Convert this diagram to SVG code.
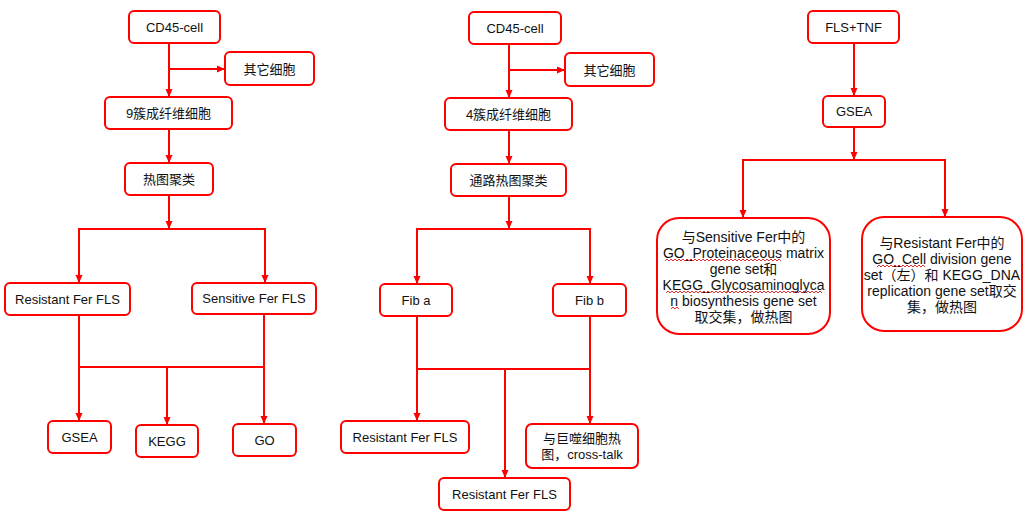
<svg xmlns="http://www.w3.org/2000/svg" width="1032" height="522" viewBox="0 0 1032 522">
<defs>
<marker id="arr" markerUnits="userSpaceOnUse" markerWidth="8" markerHeight="8" viewBox="0 0 8 8" refX="8" refY="4" orient="auto">
<path d="M0,0.5 L8,4 L0,7.5 Z" fill="#FF0000"/>
</marker>
<style>
rect{fill:#fff;stroke:#FF0000;stroke-width:2}
text{font-family:"Liberation Sans","Noto Sans CJK SC",sans-serif;font-size:13px;fill:#111;text-anchor:middle;dominant-baseline:central}
.b{font-size:14px}
.c line,.c polyline{stroke:#FF0000;stroke-width:2;fill:none}
.a{marker-end:url(#arr)}
.w{stroke:#E03030;stroke-width:1;fill:none}
</style>
</defs>
<rect x="0" y="0" width="1032" height="522" style="fill:#fff;stroke:none"/>
<g class="c" id="connectors">
<line class="a" x1="169" y1="43" x2="169" y2="97"/>
<line class="a" x1="169" y1="69" x2="225" y2="69"/>
<line class="a" x1="169" y1="129" x2="169" y2="163"/>
<line class="a" x1="169" y1="195" x2="169" y2="229"/>
<line x1="78" y1="229" x2="266" y2="229"/>
<line class="a" x1="79" y1="229" x2="79" y2="283"/>
<line class="a" x1="265" y1="229" x2="265" y2="283"/>
<line class="a" x1="79" y1="315" x2="79" y2="421"/>
<line class="a" x1="264" y1="314" x2="264" y2="424"/>
<line x1="79" y1="367" x2="264" y2="367"/>
<line class="a" x1="167" y1="367" x2="167" y2="425"/>
<line class="a" x1="509" y1="44" x2="509" y2="98"/>
<line class="a" x1="509" y1="70" x2="565" y2="70"/>
<line class="a" x1="509" y1="130" x2="509" y2="164"/>
<line class="a" x1="509" y1="196" x2="509" y2="229"/>
<line x1="416" y1="229" x2="591" y2="229"/>
<line class="a" x1="417" y1="229" x2="417" y2="284"/>
<line class="a" x1="590" y1="229" x2="590" y2="284"/>
<line class="a" x1="417" y1="316" x2="417" y2="421"/>
<line class="a" x1="590" y1="316" x2="590" y2="424"/>
<line x1="417" y1="369" x2="590" y2="369"/>
<line class="a" x1="505" y1="369" x2="505" y2="478"/>
<line class="a" x1="854" y1="43" x2="854" y2="96"/>
<line class="a" x1="854" y1="127" x2="854" y2="160"/>
<line x1="742" y1="160" x2="946" y2="160"/>
<line class="a" x1="743" y1="160" x2="743" y2="218"/>
<line class="a" x1="945" y1="160" x2="945" y2="217"/>
</g>
<g id="n1"><rect x="129" y="11" width="91" height="32" rx="5"/><text x="174.5" y="27">CD45-cell</text></g>
<g id="n2"><rect x="225" y="52" width="89" height="33" rx="5"/><text x="269.5" y="69">其它细胞</text></g>
<g id="n3"><rect x="105" y="97" width="127" height="32" rx="5"/><text x="168.5" y="113">9簇成纤维细胞</text></g>
<g id="n4"><rect x="125" y="163" width="88" height="32" rx="5"/><text x="169" y="179">热图聚类</text></g>
<g id="n5"><rect x="5" y="283" width="125" height="32" rx="5"/><text x="67.5" y="299.5">Resistant Fer FLS</text></g>
<g id="n6"><rect x="192" y="283" width="124" height="31" rx="5"/><text x="254" y="298.5">Sensitive Fer FLS</text></g>
<g id="n7"><rect x="48" y="421" width="63" height="32" rx="5"/><text x="79.5" y="437">GSEA</text></g>
<g id="n8"><rect x="136" y="425" width="62" height="32" rx="5"/><text x="167" y="441">KEGG</text></g>
<g id="n9"><rect x="233" y="424" width="63" height="32" rx="5"/><text x="264.5" y="440">GO</text></g>
<g id="m1"><rect x="469" y="12" width="92" height="32" rx="5"/><text x="515" y="28">CD45-cell</text></g>
<g id="m2"><rect x="565" y="53" width="89" height="33" rx="5"/><text x="609.5" y="70">其它细胞</text></g>
<g id="m3"><rect x="445" y="98" width="127" height="32" rx="5"/><text x="508.5" y="114">4簇成纤维细胞</text></g>
<g id="m4"><rect x="451" y="164" width="115" height="32" rx="5"/><text x="508.5" y="180">通路热图聚类</text></g>
<g id="m5"><rect x="380" y="284" width="72" height="32" rx="5"/><text x="416" y="300">Fib a</text></g>
<g id="m6"><rect x="553" y="284" width="73" height="32" rx="5"/><text x="589.5" y="300">Fib b</text></g>
<g id="m7"><rect x="341" y="421" width="128" height="32" rx="5"/><text x="405" y="437">Resistant Fer FLS</text></g>
<g id="m8"><rect x="526" y="424" width="112" height="44" rx="6"/><text x="582" y="438">与巨噬细胞热</text><text x="582" y="454">图，cross-talk</text></g>
<g id="m9"><rect x="439" y="478" width="131" height="32" rx="5"/><text x="504.5" y="494">Resistant Fer FLS</text></g>
<g id="r1"><rect x="808" y="11" width="91" height="32" rx="5"/><text x="853.5" y="27">FLS+TNF</text></g>
<g id="r2"><rect x="823" y="96" width="62" height="31" rx="5"/><text x="854" y="111.5">GSEA</text></g>
<g id="r3"><rect x="657" y="218" width="173" height="116" rx="22"/>
<text class="b" x="743.5" y="237">与Sensitive Fer中的</text>
<text class="b" x="743.5" y="253">GO_Proteinaceous matrix</text>
<text class="b" x="743.5" y="269">gene set和</text>
<text class="b" x="743.5" y="285">KEGG_Glycosaminoglyca</text>
<text class="b" x="743.5" y="301">n biosynthesis gene set</text>
<text class="b" x="743.5" y="317">取交集，做热图</text>
<path class="w" d="M665,261 l2,-2 l2,2 l2,-2 l2,2 l2,-2 l2,2 l2,-2 l2,2 l2,-2 l2,2 l2,-2 l2,2 l2,-2 l2,2 l2,-2 l2,2 l2,-2 l2,2 l2,-2 l2,2 l2,-2 l2,2 l2,-2 l2,2 l2,-2 l2,2 l2,-2 l2,2 l2,-2 l2,2 l2,-2 l2,2 l2,-2 l2,2 l2,-2 l2,2 l2,-2 l2,2 l2,-2 l2,2 l2,-2 l2,2 l2,-2 l2,2 l2,-2 l2,2 l2,-2 l2,2 l2,-2 l2,2 l2,-2 l2,2 l2,-2 l2,2 l2,-2 l2,2 l2,-2 l2,2"/>
<path class="w" d="M666,293 l2,-2 l2,2 l2,-2 l2,2 l2,-2 l2,2 l2,-2 l2,2 l2,-2 l2,2 l2,-2 l2,2 l2,-2 l2,2 l2,-2 l2,2 l2,-2 l2,2 l2,-2 l2,2 l2,-2 l2,2 l2,-2 l2,2 l2,-2 l2,2 l2,-2 l2,2 l2,-2 l2,2 l2,-2 l2,2 l2,-2 l2,2 l2,-2 l2,2 l2,-2 l2,2 l2,-2 l2,2 l2,-2 l2,2 l2,-2 l2,2 l2,-2 l2,2 l2,-2 l2,2 l2,-2 l2,2 l2,-2 l2,2 l2,-2 l2,2 l2,-2 l2,2 l2,-2 l2,2 l2,-2 l2,2 l2,-2 l2,2 l2,-2 l2,2 l2,-2 l2,2 l2,-2 l2,2 l2,-2 l2,2 l2,-2 l2,2 l2,-2 l2,2 l2,-2 l2,2 l2,-2 l2,2"/>
<path class="w" d="M671,309 l2,-2 l2,2 l2,-2 l2,2"/>
</g>
<g id="r4"><rect x="862" y="217" width="160" height="114" rx="22"/>
<text class="b" x="942" y="243">与Resistant Fer中的</text>
<text class="b" x="942" y="259">GO_Cell division gene</text>
<text class="b" x="942" y="275">set（左）和 KEGG_DNA</text>
<text class="b" x="942" y="291">replication gene set取交</text>
<text class="b" x="942" y="307">集，做热图</text>
<path class="w" d="M877,267 l2,-2 l2,2 l2,-2 l2,2 l2,-2 l2,2 l2,-2 l2,2 l2,-2 l2,2 l2,-2 l2,2 l2,-2 l2,2 l2,-2 l2,2 l2,-2 l2,2 l2,-2 l2,2 l2,-2 l2,2 l2,-2 l2,2"/>
</g>
</svg>
